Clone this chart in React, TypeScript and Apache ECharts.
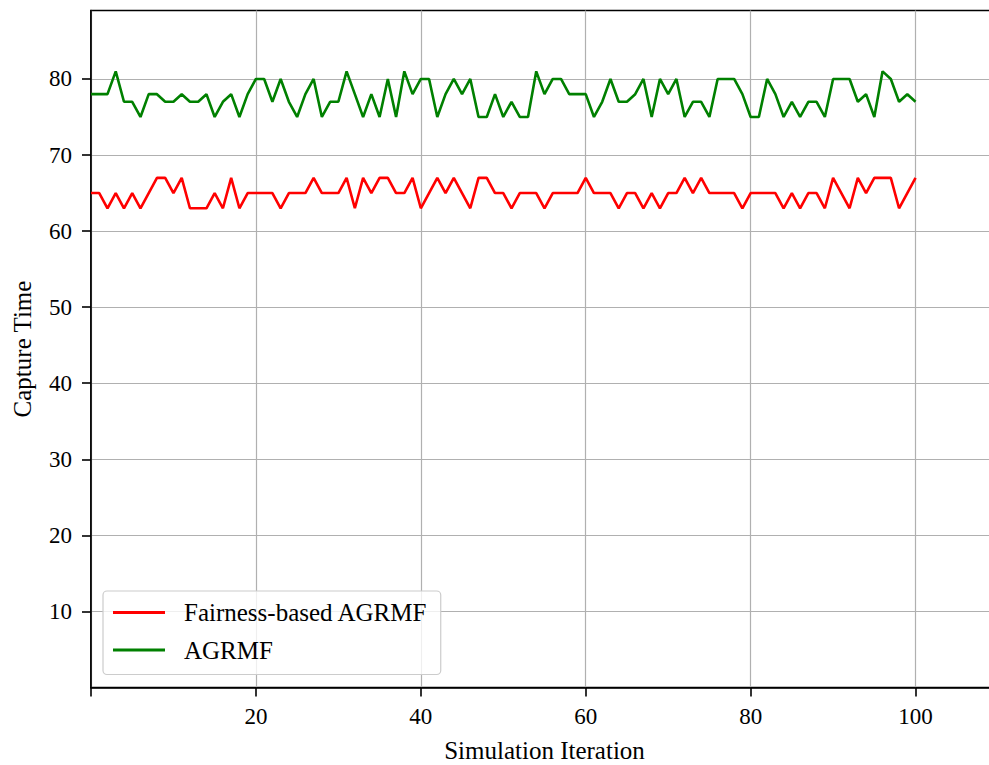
import React, { useEffect, useRef } from "react";
import * as echarts from "echarts";

const fairnessAGRMF: number[] = [
  65, 65, 63, 65, 63, 65, 63, 65, 67, 67, 65, 67, 63, 63, 63, 65, 63, 67, 63, 65, 65,
  65, 65, 63, 65, 65, 65, 67, 65, 65, 65, 67, 63, 67, 65, 67, 67, 65, 65, 67, 63,
  65, 67, 65, 67, 65, 63, 67, 67, 65, 65, 63, 65, 65, 65, 63, 65, 65, 65, 65, 67,
  65, 65, 65, 63, 65, 65, 63, 65, 63, 65, 65, 67, 65, 67, 65, 65, 65, 65, 63, 65,
  65, 65, 65, 63, 65, 63, 65, 65, 63, 67, 65, 63, 67, 65, 67, 67, 67, 63, 65, 67,
];

const agrmf: number[] = [
  78, 78, 78, 81, 77, 77, 75, 78, 78, 77, 77, 78, 77, 77, 78, 75, 77, 78, 75, 78, 80,
  80, 77, 80, 77, 75, 78, 80, 75, 77, 77, 81, 78, 75, 78, 75, 80, 75, 81, 78, 80,
  80, 75, 78, 80, 78, 80, 75, 75, 78, 75, 77, 75, 75, 81, 78, 80, 80, 78, 78, 78,
  75, 77, 80, 77, 77, 78, 80, 75, 80, 78, 80, 75, 77, 77, 75, 80, 80, 80, 78, 75,
  75, 80, 78, 75, 77, 75, 77, 77, 75, 80, 80, 80, 77, 78, 75, 81, 80, 77, 78, 77,
];

const iterations: number[] = agrmf.map((_, i) => i);

const xTicks = [20, 40, 60, 80, 100];
const yTicks = [10, 20, 30, 40, 50, 60, 70, 80];

const seriesNames = ["Fairness-based AGRMF", "AGRMF"];

const FONT = "'Liberation Serif', 'Times New Roman', serif";

export default function App() {
  const ref = useRef<HTMLDivElement>(null);

  useEffect(() => {
    if (!ref.current) return;
    const chart = echarts.init(ref.current, undefined, { renderer: "svg" });
    const pairs = (vals: number[]) => vals.map((v, i) => [iterations[i], v]);
    chart.setOption({
      animation: false,
      backgroundColor: "#ffffff",
      grid: {
        left: 91,
        top: 10.5,
        right: -9,
        bottom: 77.5,
        outerBoundsMode: "none",
        containLabel: false,
        show: true,
        borderColor: "#000000",
        borderWidth: 1.6,
        backgroundColor: "transparent",
      },
      legend: {
        left: 103,
        top: 591,
        orient: "vertical",
        data: seriesNames.map((n) => ({ name: n, icon: "rect" })),
        itemWidth: 52,
        itemHeight: 2.8,
        itemGap: 12.5,
        padding: [9, 13, 12, 10],
        backgroundColor: "rgba(255,255,255,0.8)",
        borderColor: "#cccccc",
        borderWidth: 1.2,
        borderRadius: 4,
        textStyle: {
          fontFamily: FONT,
          fontSize: 25,
          color: "#000000",
          lineHeight: 24,
          padding: [0, 0, 0, 14],
        },
      },
      xAxis: {
        type: "value",
        min: 0,
        max: 110,
        interval: 20,
        name: "Simulation Iteration",
        nameLocation: "middle",
        nameGap: 50,
        nameTextStyle: { fontFamily: FONT, fontSize: 25, color: "#000000" },
        axisLine: { show: true, lineStyle: { color: "#000000", width: 1.6 } },
        axisTick: {
          show: true,
          inside: false,
          length: 9,
          lineStyle: { color: "#000000", width: 1.6 },
        },
        axisLabel: {
          fontFamily: FONT,
          fontSize: 23,
          color: "#000000",
          margin: 17,
          formatter: (v: number) => (xTicks.includes(v) ? String(v) : ""),
        },
        splitLine: { show: true, lineStyle: { color: "#b0b0b0", width: 1.2 } },
      },
      yAxis: {
        type: "value",
        min: 0,
        max: 89,
        interval: 10,
        name: "Capture Time",
        nameLocation: "middle",
        nameGap: 56,
        nameTextStyle: { fontFamily: FONT, fontSize: 25, color: "#000000" },
        axisLine: { show: true, lineStyle: { color: "#000000", width: 1.6 } },
        axisTick: {
          show: true,
          inside: false,
          length: 9,
          customValues: yTicks,
          lineStyle: { color: "#000000", width: 1.6 },
        },
        axisLabel: {
          fontFamily: FONT,
          fontSize: 23,
          color: "#000000",
          margin: 19,
          customValues: yTicks,
        },
        splitLine: { show: true, lineStyle: { color: "#b0b0b0", width: 1.2 } },
      },
      series: [
        {
          name: seriesNames[0],
          type: "line",
          data: pairs(fairnessAGRMF),
          showSymbol: false,
          symbol: "none",
          lineStyle: { color: "#ff0000", width: 2.6 },
          itemStyle: { color: "#ff0000" },
        },
        {
          name: seriesNames[1],
          type: "line",
          data: pairs(agrmf),
          showSymbol: false,
          symbol: "none",
          lineStyle: { color: "#008000", width: 2.6 },
          itemStyle: { color: "#008000" },
        },
      ],
    });
    return () => chart.dispose();
  }, []);

  return (
    <div
      ref={ref}
      style={{ position: "absolute", left: 0, top: 0, width: 989, height: 765 }}
    />
  );
}
